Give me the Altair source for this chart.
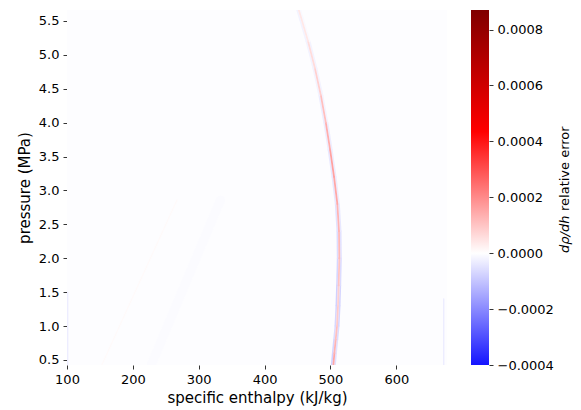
import altair as alt
import pandas as pd

# ---- data ----
H_RANGE = [100, 677]          # specific enthalpy (kJ/kg)
P_RANGE = [0.426, 5.66]       # pressure (MPa)
x_ticks = [100, 200, 300, 400, 500, 600]
y_ticks = [0.5, 1.0, 1.5, 2.0, 2.5, 3.0, 3.5, 4.0, 4.5, 5.0, 5.5]
cbar_ticks = [-0.0004, -0.0002, 0.0, 0.0002, 0.0004, 0.0006, 0.0008]
cbar_domain = [-0.0004, 0.0, 0.000435, 0.00087]
cbar_colors = ["#1414ff", "#ffffff", "#ff0000", "#800000"]

background_err = [-0.000003]

# saturated-vapour ridge of the error field
curve_p = [0.43, 0.6, 0.8, 1.0, 1.3, 1.6, 2.0, 2.4, 2.8, 3.2, 3.6, 4.0, 4.4, 4.8, 5.2, 5.66]
curve_h = [504.5, 506, 508, 510, 511.5, 512.5, 513.5, 513, 510.5, 505.5, 499.5, 493, 485.5, 476.5, 466, 452]
red_err = [0.00015, 0.00013, 0.00011, 0.00009, 0.00008, 0.0001, 0.00012, 0.00013, 0.00015,
           0.00016, 0.00014, 0.00011, 0.00008, 0.00006, 0.00004]
blue_left_err = [-0.00008, -0.00007, -0.00006, -0.00007, -0.00008, -0.00007, -0.00006, -0.00005,
                 -0.00004, -0.00004, -0.00003, -0.00003, -0.00002, -0.00002, -0.00002]
blue_right_err = [-0.00005, -0.00005, -0.00006, -0.00007, -0.00007, -0.00006, -0.00005, -0.00004,
                  -0.00003, -0.00003, -0.00003, -0.00002, -0.00002, -0.00002, -0.00001]

# faint features
faint_line_h = [153, 267]
faint_line_p = [0.43, 2.86]
faint_line_err = [0.000008]
faint_band_h = [228, 333]
faint_band_p = [0.43, 2.86]
faint_band_err = [-0.000007]
edge_right_h = [672, 672]
edge_right_p = [0.43, 1.4]
edge_right_err = [-0.00003]
edge_left_h = [101, 101]
edge_left_p = [0.43, 1.5]
edge_left_err = [-0.00003]


def segments(hs, ps, errs, offset=0.0):
    rows = []
    for i in range(len(hs) - 1):
        rows.append({"h0": hs[i] + offset, "p0": ps[i], "h1": hs[i + 1] + offset,
                     "p1": ps[i + 1], "err": errs[i]})
    return pd.DataFrame(rows)


bg_df = pd.DataFrame({"h0": [H_RANGE[0]], "h1": [H_RANGE[1]], "p0": [P_RANGE[0]],
                      "p1": [P_RANGE[1]], "err": background_err})

FONT = "DejaVu Sans"

x_enc = alt.X("h0:Q", scale=alt.Scale(domain=H_RANGE, nice=False, zero=False),
              axis=alt.Axis(values=x_ticks, title="specific enthalpy (kJ/kg)", format="d",
                            labelFlush=False, labelOverlap=False))
y_enc = alt.Y("p0:Q", scale=alt.Scale(domain=P_RANGE, nice=False, zero=False),
              axis=alt.Axis(values=y_ticks, title="pressure (MPa)", format=".1f",
                            labelFlush=False, labelOverlap=False))
c_scale = alt.Scale(domain=cbar_domain, range=cbar_colors, interpolate="rgb")
c_enc = alt.Color("err:Q", scale=c_scale, legend=None)

bg = alt.Chart(bg_df).mark_rect().encode(x=x_enc, x2="h1:Q", y=y_enc, y2="p1:Q", color=c_enc)


def rule_layer(df, width):
    return alt.Chart(df).mark_rule(strokeWidth=width, strokeCap="round", clip=True).encode(
        x=x_enc, x2="h1:Q", y=y_enc, y2="p1:Q", color=c_enc)


heat = alt.layer(
    bg,
    rule_layer(segments(faint_band_h, faint_band_p, faint_band_err), 9),
    rule_layer(segments(faint_line_h, faint_line_p, faint_line_err), 1.2),
    rule_layer(segments(edge_right_h, edge_right_p, edge_right_err), 1.5),
    rule_layer(segments(edge_left_h, edge_left_p, edge_left_err), 1.5),
    rule_layer(segments(curve_h, curve_p, blue_left_err, -2.6), 1.6),
    rule_layer(segments(curve_h, curve_p, blue_right_err, 2.6), 1.6),
    rule_layer(segments(curve_h, curve_p, red_err), 1.8),
)

# ---- colour bar (own y scale, axis on the right) ----
lo, hi = cbar_domain[0], cbar_domain[-1]
stops = [alt.GradientStop(offset=(v - lo) / (hi - lo), color=c)
         for v, c in zip(cbar_domain, cbar_colors)]
cbar_df = pd.DataFrame({"lo": [lo], "hi": [hi]})
cbar = alt.Chart(cbar_df).mark_rect(
    fill=alt.LinearGradient(gradient="linear", stops=stops, x1=0, x2=0, y1=1, y2=0)
).encode(
    x=alt.value(404), x2=alt.value(422),
    y=alt.Y("lo:Q", scale=alt.Scale(domain=[lo, hi], nice=False, zero=False),
            axis=alt.Axis(orient="right", offset=42, values=cbar_ticks, format=".4f",
                          title=None, labelOverlap=False, labelFlush=False)),
    y2="hi:Q",
)

title_a = alt.Chart(pd.DataFrame({"t": ["dρ/dh"]})).mark_text(
    angle=270, align="left", baseline="middle", font=FONT, fontSize=13,
    fontStyle="italic", color="#000").encode(x=alt.value(498), y=alt.value(243), text="t:N")
title_b = alt.Chart(pd.DataFrame({"t": ["relative error"]})).mark_text(
    angle=270, align="left", baseline="middle", font=FONT, fontSize=13,
    color="#000").encode(x=alt.value(498), y=alt.value(201), text="t:N")

chart = alt.layer(heat, cbar, title_a, title_b).resolve_scale(y="independent").properties(
    width=380, height=355,
    autosize=alt.AutoSizeParams(type="none"),
    padding={"left": 67, "top": 10, "right": 134, "bottom": 45},
).configure_view(stroke=None).configure_axis(
    domain=False, grid=False, tickSize=4, tickWidth=0.8, tickColor="#000",
    labelFont=FONT, labelFontSize=13, labelColor="#000", labelPadding=4, labelOverlap=False,
    titleFont=FONT, titleFontSize=15, titleColor="#000", titleFontWeight="normal",
).configure_axisX(titlePadding=4, labelAngle=0).configure_axisY(titlePadding=6)

chart.save("out.html", embed_options={"renderer": "svg", "actions": False})
